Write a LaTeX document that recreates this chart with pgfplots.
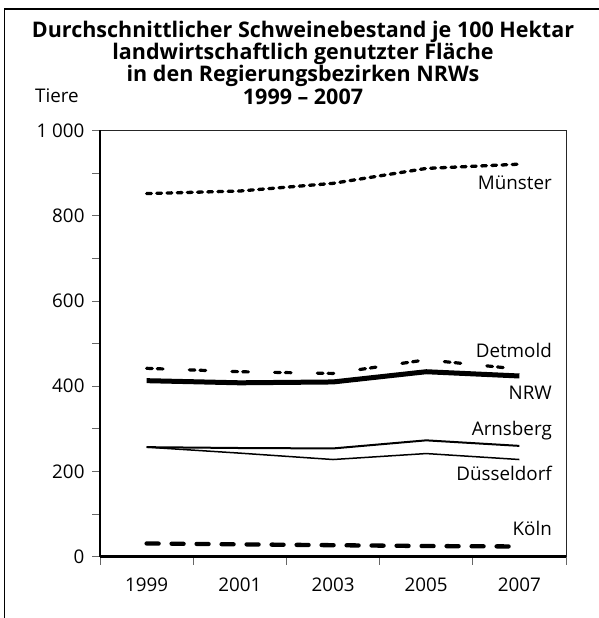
\documentclass[border=0pt]{standalone}
\usepackage{pgfplots}
\pgfplotsset{compat=1.18}
\usepackage{fontspec}
\setmainfont{Open Sans}

\newcommand{\lab}{\fontsize{18.8}{22}\selectfont}

\begin{document}
\begin{tikzpicture}[x=1pt,y=1pt]
\useasboundingbox (0,0) rectangle (599,618);
% outer frame (left and top only visible)
\draw[line width=1.6pt] (4.3,0) -- (4.3,609) -- (599,609);

% title
\begin{scope}[every node/.style={anchor=base, inner sep=0pt, font=\bfseries\fontsize{21.5}{23}\selectfont}]
  \node at (303,618-37.3) {Durchschnittlicher Schweinebestand je 100 Hektar};
  \node at (303,618-59.5) {landwirtschaftlich genutzter Fläche};
  \node at (303,618-82) {in den Regierungsbezirken NRWs};
  \node at (303,618-105) {1999 – 2007};
\end{scope}
\node[anchor=base west, inner sep=0pt, font=\lab] at (35,618-102.7) {Tiere};

\begin{axis}[
  at={(100pt,61.3pt)}, anchor=south west,
  scale only axis, width=466pt, height=426.2pt,
  xmin=1998, xmax=2008, ymin=0, ymax=1000,
  axis line style={line width=0.9pt, black!85},
  tick align=outside,
  xtick pos=bottom, ytick pos=left,
  major tick length=8pt, minor tick length=8pt,
  tick style={line width=0.9pt, black!60},
  ytick={0,200,400,600,800,1000},
  yticklabels={0,200,400,600,800,{1 000}},
  minor ytick={100,300,500,700,900},
  xtick={1998,2000,2002,2004,2006,2008},
  xticklabels={},
  extra x ticks={1999,2001,2003,2005,2007},
  extra x tick labels={1999,2001,2003,2005,2007},
  extra x tick style={major tick length=0pt, tick style={draw=none},
    tick label style={yshift=-18pt}},
  ticklabel style={font=\lab},
  yticklabel style={xshift=-4pt},
  clip=false,
]
\draw[line width=2.4pt, black] (rel axis cs:0,0) -- (rel axis cs:1,0);
\draw[line width=1.4pt, black] (rel axis cs:0,0) -- (rel axis cs:0,1);

% Muenster
\addplot[line width=3.3pt, line cap=round, dash pattern=on 4.8pt off 5.4pt]
  coordinates {(1999,852) (2001,858) (2003,876) (2005,911) (2007,921)};
% Detmold
\addplot[line width=3.2pt, line cap=round, dash pattern=on 5.7pt off 5pt on 5.7pt off 26.3pt]
  coordinates {(1999,442) (2001,434) (2003,430) (2005,462) (2007,440)};
% NRW
\addplot[line width=5pt, line join=round]
  coordinates {(1999,413) (2001,408) (2003,410) (2005,434) (2007,424)};
% Arnsberg
\addplot[line width=2pt]
  coordinates {(1999,257) (2001,255) (2003,254) (2005,273) (2007,260)};
% Duesseldorf
\addplot[line width=1.5pt]
  coordinates {(1999,257) (2001,243) (2003,228) (2005,242) (2007,228)};
% Koeln
\addplot[line width=4.3pt, line cap=round, dash pattern=on 12pt off 13pt]
  coordinates {(1999,31) (2001,29) (2003,27) (2005,25) (2007,24)};
\end{axis}

% series labels
\begin{scope}[every node/.style={anchor=base east, inner sep=0pt, font=\lab}]
  \node at (552,618-189.3) {Münster};
  \node at (552,618-357.3) {Detmold};
  \node at (552,618-399.3) {NRW};
  \node at (552,618-435.5) {Arnsberg};
  \node at (552,618-481) {Düsseldorf};
  \node at (552,618-536) {Köln};
\end{scope}
\end{tikzpicture}
\end{document}
